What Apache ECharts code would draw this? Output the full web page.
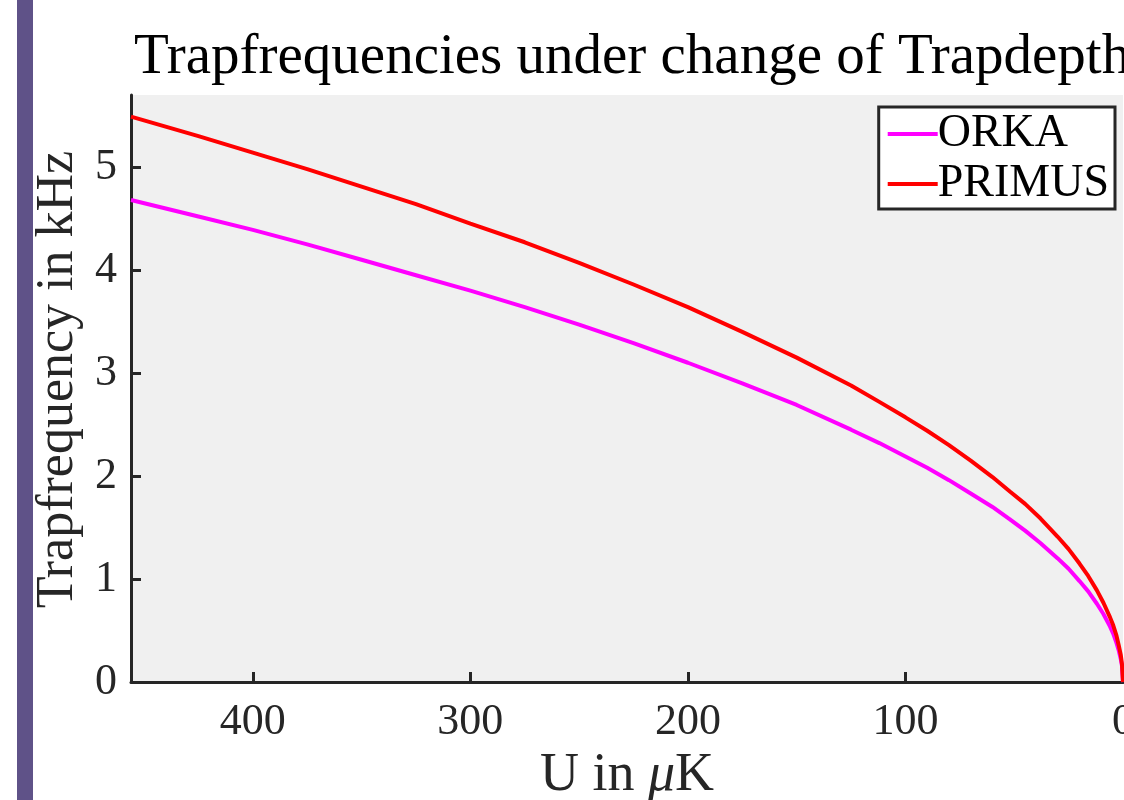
<!DOCTYPE html>
<html>
<head>
<meta charset="utf-8">
<script src="https://cdn.jsdelivr.net/npm/echarts@6/dist/echarts.min.js"></script>
<style>
    html, body { margin: 0; padding: 0; background: #fff; }
    #chart { width: 1124px; height: 800px; }
</style>
</head>
<body>
<div id="chart"></div>
<script>
// trap depth U in µK (axis runs right to left)
const depth = [456, 425, 400, 375, 350, 325, 300, 275, 250, 225, 200, 175, 150, 125, 112, 100, 90, 80, 70, 60, 52, 45, 38, 30, 25, 20, 16, 12, 9, 6, 4.5, 3, 2, 1, 0.5, 0];
// trap frequency in kHz
const orka = [4.68, 4.52, 4.39, 4.25, 4.10, 3.95, 3.80, 3.64, 3.47, 3.29, 3.10, 2.90, 2.69, 2.45, 2.32, 2.19, 2.08, 1.96, 1.83, 1.70, 1.58, 1.47, 1.35, 1.20, 1.10, 0.98, 0.88, 0.76, 0.66, 0.54, 0.47, 0.38, 0.31, 0.22, 0.16, 0];
const primus = [5.49, 5.30, 5.14, 4.98, 4.81, 4.64, 4.45, 4.27, 4.07, 3.86, 3.64, 3.40, 3.15, 2.88, 2.72, 2.57, 2.44, 2.30, 2.15, 1.99, 1.85, 1.73, 1.59, 1.41, 1.29, 1.15, 1.03, 0.89, 0.77, 0.63, 0.55, 0.45, 0.36, 0.26, 0.18, 0];
const xTicks = [0, 100, 200, 300, 400];
const yTicks = [0, 1, 2, 3, 4, 5];

const font = "Liberation Serif";
const ink = "#262626";

const chart = echarts.init(document.getElementById("chart"));

chart.setOption({
    animation: false,
    backgroundColor: "#fff",
    graphic: [
        {
            type: "rect",
            left: 17,
            top: 0,
            shape: { width: 16, height: 800 },
            style: { fill: "#5f5288" },
        },
    ],
    title: {
        text: "Trapfrequencies under change of Trapdepth",
        left: 134,
        top: 30,
        padding: 0,
        textStyle: { fontFamily: font, fontSize: 57, fontWeight: "normal", color: "#000" },
    },
    grid: {
        left: 131,
        right: 1,
        top: 95,
        bottom: 118,
        outerBoundsMode: "none",
        containLabel: false,
        show: true,
        backgroundColor: "#f0f0f0",
        borderWidth: 0,
    },
    legend: {
        orient: "vertical",
        right: 9,
        top: 107,
        padding: [4, 6, 2, 7],
        itemGap: 4,
        itemWidth: 50,
        itemHeight: 20,
        itemStyle: { opacity: 0 },
        lineStyle: { width: 4 },
        backgroundColor: "#fff",
        borderColor: ink,
        borderWidth: 3,
        borderRadius: 0,
        textStyle: { fontFamily: font, fontSize: 46, lineHeight: 45, color: "#000", padding: [0, 0, 0, -5] },
    },
    xAxis: {
        type: "value",
        inverse: true,
        min: 0,
        max: 456,
        name: "U in {i|μ}K",
        nameLocation: "middle",
        nameGap: 62,
        nameTextStyle: {
            fontFamily: font,
            fontSize: 54,
            color: ink,
            rich: { i: { fontFamily: font, fontSize: 54, fontStyle: "italic", color: ink } },
        },
        splitLine: { show: false },
        axisLine: { show: true, onZero: false, lineStyle: { color: ink, width: 3 } },
        axisTick: { inside: true, length: 10, lineStyle: { color: ink, width: 3 }, customValues: xTicks },
        axisLabel: { fontFamily: font, fontSize: 44, color: ink, margin: 18, customValues: xTicks },
    },
    yAxis: {
        type: "value",
        min: 0,
        max: 5.7,
        name: "Trapfrequency in kHz",
        nameLocation: "middle",
        nameGap: 46,
        nameTextStyle: { fontFamily: font, fontSize: 52, color: ink, padding: [0, 0, 0, 18] },
        splitLine: { show: false },
        axisLine: { show: true, onZero: false, lineStyle: { color: ink, width: 3 } },
        axisTick: { inside: true, length: 10, lineStyle: { color: ink, width: 3 }, customValues: yTicks },
        axisLabel: { fontFamily: font, fontSize: 44, color: ink, margin: 14, customValues: yTicks },
    },
    series: [
        {
            name: "ORKA",
            type: "line",
            data: depth.map((u, i) => [u, orka[i]]),
            showSymbol: false,
            symbol: "none",
            smooth: false,
            lineStyle: { color: "#ff00ff", width: 4 },
            itemStyle: { color: "#ff00ff" },
        },
        {
            name: "PRIMUS",
            type: "line",
            data: depth.map((u, i) => [u, primus[i]]),
            showSymbol: false,
            symbol: "none",
            smooth: false,
            lineStyle: { color: "#ff0000", width: 4 },
            itemStyle: { color: "#ff0000" },
        },
    ],
});
</script>
</body>
</html>
